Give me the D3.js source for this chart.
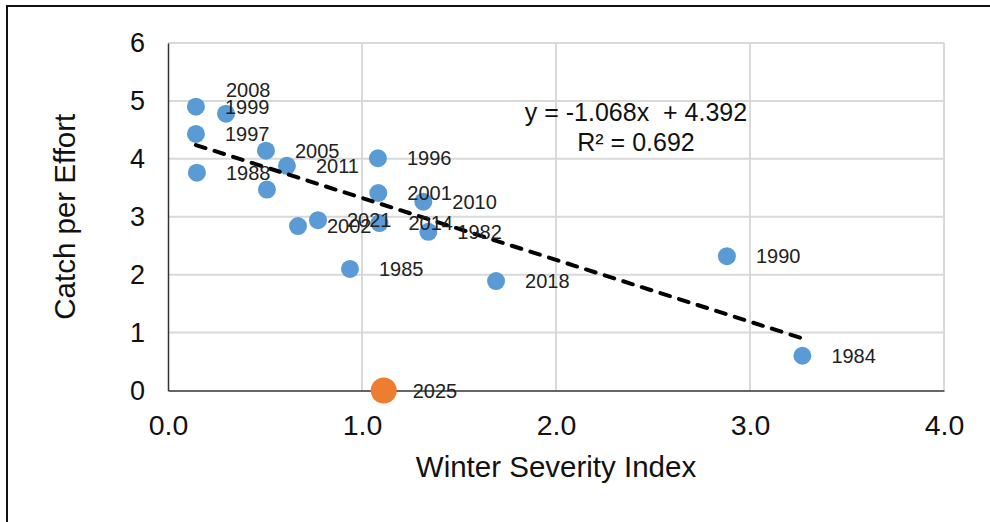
<!DOCTYPE html>
<html><head><meta charset="utf-8">
<script src="https://cdn.jsdelivr.net/npm/d3@7"></script>
<style>
html,body{margin:0;padding:0;background:#fff;}
svg{display:block;font-family:"Liberation Sans",Arial,sans-serif;}
</style></head>
<body><svg id="c" width="990" height="522"></svg>
<script>
// ---- data ----
const years = ["1999","2008","1997","1988","2005","2011","","2002","2021","1996","2001","2010","2014","1982","1985","2018","1990","1984"];
const wsi   = [0.144,0.299,0.144,0.149,0.505,0.613,0.510,0.670,0.773,1.082,1.084,1.316,1.090,1.342,0.938,1.691,2.881,3.270];
const cpe   = [4.90,4.78,4.43,3.76,4.14,3.88,3.47,2.84,2.94,4.01,3.41,3.26,2.89,2.74,2.10,1.89,2.32,0.60];
const currentYear = ["2025"];
const currentWsi = [1.112];
const currentCpe = [0.0];
const trendSlope = -1.068;
const trendIntercept = 4.392;
const r2 = 0.692;
const xTicks = [0,1,2,3,4];
const yTicks = [0,1,2,3,4,5,6];
const xTitle = "Winter Severity Index";
const yTitle = "Catch per Effort";

// ---- layout ----
const svg = d3.select("#c");
const L = 168, R = 944, T = 43, B = 390.5;
const x = d3.scaleLinear().domain([0,4]).range([L,R]);
const y = d3.scaleLinear().domain([0,6]).range([B,T]);

// outer frame
svg.append("rect").attr("x",7).attr("y",6).attr("width",1000).attr("height",540)
  .attr("fill","#fff").attr("stroke","#111").attr("stroke-width",2);

// gridlines
svg.append("g").selectAll("line").data(yTicks.filter(d=>d>0)).join("line")
  .attr("x1",L).attr("x2",R).attr("y1",d=>y(d)).attr("y2",d=>y(d))
  .attr("stroke","#d9d9d9").attr("stroke-width",2);
svg.append("g").selectAll("line").data(xTicks.filter(d=>d>0)).join("line")
  .attr("y1",T).attr("y2",B).attr("x1",d=>x(d)).attr("x2",d=>x(d))
  .attr("stroke","#d9d9d9").attr("stroke-width",2);

// axes
const ax = svg.append("g").attr("transform",`translate(0,${B})`)
  .call(d3.axisBottom(x).tickValues(xTicks).tickSize(0).tickPadding(24).tickFormat(d3.format(".1f")));
ax.select(".domain").attr("stroke","#333").attr("stroke-width",1.5);
ax.selectAll("text").attr("font-size",28.5).attr("fill","#111").attr("font-family","Liberation Sans, Arial, sans-serif");

const ay = svg.append("g").attr("transform",`translate(${L},0)`)
  .call(d3.axisLeft(y).tickValues(yTicks).tickSize(0).tickPadding(23).tickFormat(d3.format("d")));
ay.select(".domain").attr("stroke","#333").attr("stroke-width",1.5);
ay.selectAll("text").attr("font-size",27).attr("fill","#111").attr("font-family","Liberation Sans, Arial, sans-serif");

// axis titles
svg.append("text").attr("x",(L+R)/2).attr("y",477).attr("text-anchor","middle")
  .attr("font-size",29.5).attr("fill","#111").text(xTitle);
svg.append("text").attr("transform",`translate(75,${(T+B)/2}) rotate(-90)`).attr("text-anchor","middle")
  .attr("font-size",29.5).attr("fill","#111").text(yTitle);

// points
const pts = years.map((yr,i)=>({yr, x:wsi[i], y:cpe[i]}));
const cur = currentYear.map((yr,i)=>({yr, x:currentWsi[i], y:currentCpe[i]}));

svg.append("g").selectAll("circle").data(pts).join("circle")
  .attr("cx",d=>x(d.x)).attr("cy",d=>y(d.y)).attr("r",9).attr("fill","#5b9bd5");

// trendline
const xmin = d3.min(wsi), xmax = d3.max(wsi);
svg.append("line")
  .attr("x1",x(xmin)).attr("y1",y(trendSlope*xmin+trendIntercept))
  .attr("x2",x(xmax)).attr("y2",y(trendSlope*xmax+trendIntercept))
  .attr("stroke","#000").attr("stroke-width",4).attr("stroke-linecap","round")
  .attr("stroke-dasharray","10,9.5");

svg.append("g").selectAll("circle").data(cur).join("circle")
  .attr("cx",d=>x(d.x)).attr("cy",d=>y(d.y)).attr("r",13).attr("fill","#ed7d31");

// data labels (manual nudges for moved labels)
const nudge = {"2008":{dx:0,dy:-24}};
const lab = svg.append("g").attr("font-size",20).attr("fill","#222");
lab.selectAll("text").data(pts.concat(cur).filter(d=>d.yr)).join("text")
  .attr("x",d=>x(d.x)+(nudge[d.yr]?nudge[d.yr].dx:29))
  .attr("y",d=>y(d.y)+(nudge[d.yr]?nudge[d.yr].dy:0))
  .attr("dy","0.36em")
  .text(d=>d.yr);

// equation
const eq = svg.append("g").attr("font-size",25).attr("fill","#111").attr("text-anchor","middle");
eq.append("text").attr("x",636).attr("y",121).style("white-space","pre")
  .text(`y = ${trendSlope.toFixed(3)}x  + ${trendIntercept.toFixed(3)}`);
eq.append("text").attr("x",636).attr("y",151).text(`R² = ${r2.toFixed(3)}`);
</script></body></html>
